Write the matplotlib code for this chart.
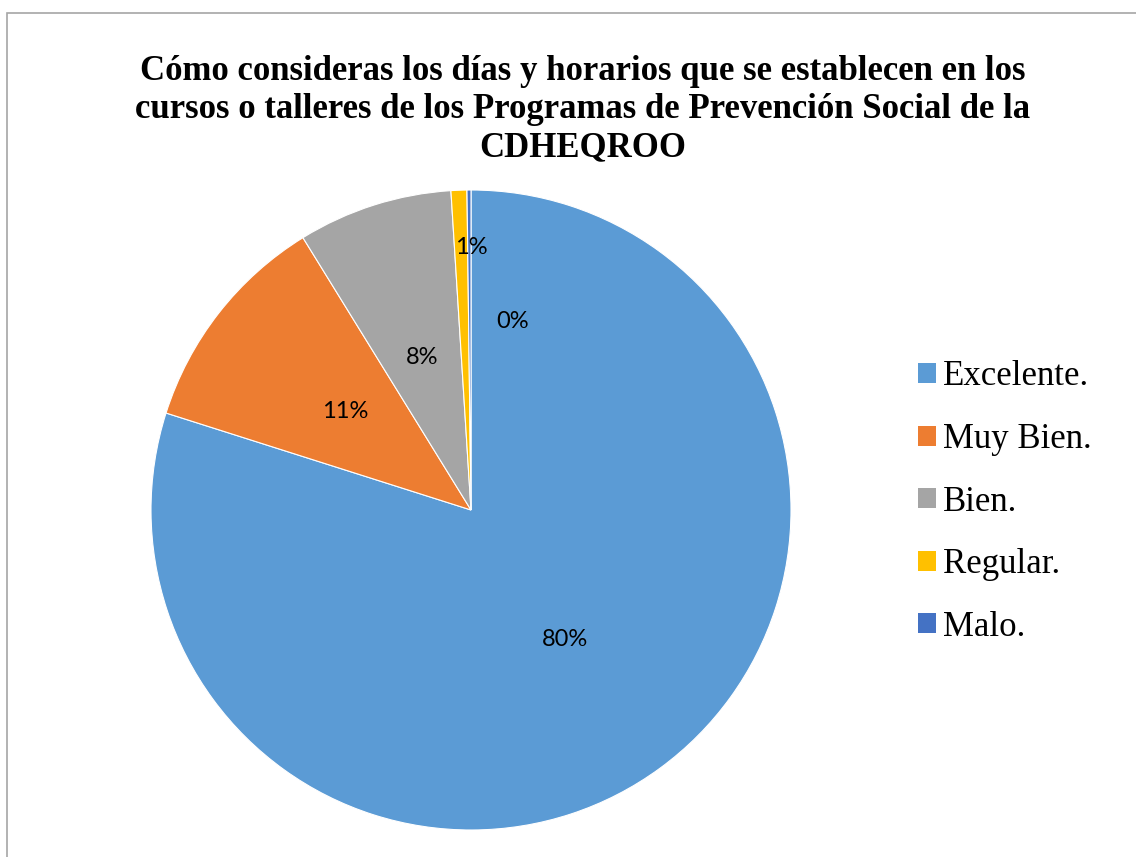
import matplotlib.pyplot as plt
import matplotlib.patches as mpatches
import numpy as np

# data (slice shares, percent)
categories = ["Excelente.", "Muy Bien.", "Bien.", "Regular.", "Malo."]
values = [79.9, 11.3, 7.8, 0.8, 0.2]
pct_labels = ["80%", "11%", "8%", "1%", "0%"]
colors = ["#5B9BD5", "#ED7D31", "#A5A5A5", "#FFC000", "#4472C4"]

title = ("Cómo consideras los días y horarios que se establecen en los\n"
         "cursos o talleres de los Programas de Prevención Social de la\n"
         "CDHEQROO")

W, H = 1136, 857
fig = plt.figure(figsize=(W / 100, H / 100), dpi=100)

# pie axes: centre (471, 510) px, radius 320 px
cx, cy, r = 471, 510, 320
ax = fig.add_axes([(cx - r) / W, (H - cy - r) / H, 2 * r / W, 2 * r / H])
wedges, _ = ax.pie(values, colors=colors, startangle=90, counterclock=False,
                   radius=1, wedgeprops=dict(edgecolor="white", linewidth=0.8))
ax.set_xlim(-1, 1)
ax.set_ylim(-1, 1)
ax.set_aspect("equal")
ax.axis("off")

# percentage labels: main slices at half radius, small ones placed like Excel's best fit
cum = np.cumsum([0] + values)
label_pos = []
for i in range(len(values)):
    mid = (cum[i] + cum[i + 1]) / 2 / sum(values) * 2 * np.pi
    label_pos.append((0.5 * np.sin(mid), 0.5 * np.cos(mid)))
label_pos[3] = (0.0, 0.82)
label_pos[4] = (0.13, 0.59)
for (x, y), t in zip(label_pos, pct_labels):
    ax.text(x, y, t, ha="center", va="center", fontsize=17, family="Lato", color="black")

fig.text(583 / W, 1 - 110 / H, title, ha="center", va="center", fontsize=25,
         fontweight="bold", family="Liberation Serif", linespacing=1.2)

handles = [mpatches.Patch(facecolor=c, edgecolor="none") for c in colors]
leg = fig.legend(handles, categories, loc="center left",
                 bbox_to_anchor=(918 / W, 1 - 502 / H), frameon=False,
                 prop=dict(family="Liberation Serif", size=25),
                 handlelength=0.52, handleheight=0.52, handletextpad=0.2,
                 labelspacing=0.85, borderpad=0, borderaxespad=0)

# chart border (only top and left edges visible in the crop)
fig.patches.append(mpatches.Rectangle((7 / W, -0.2), 1.2, 1.2 - 13 / H,
                                      transform=fig.transFigure, fill=False,
                                      edgecolor="#A6A6A6", linewidth=1.2))

fig.savefig("out.png", dpi=100)
